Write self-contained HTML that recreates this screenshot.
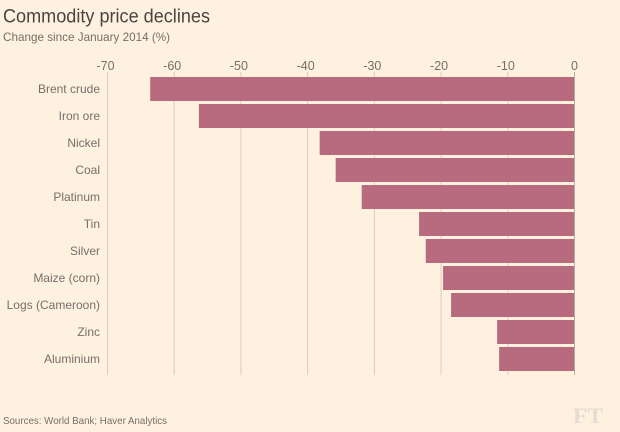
<!DOCTYPE html>
<html lang="en">
<head>
<meta charset="utf-8">
<title>Commodity price declines</title>
<style>
html,body{margin:0;padding:0;background:#fff1e0;}
body{width:620px;height:432px;overflow:hidden;position:relative;font-family:"Liberation Sans",sans-serif;}
svg{display:block;position:absolute;left:0;top:0;}
text{font-family:"Liberation Sans",sans-serif;}
</style>
</head>
<body>
<svg id="chart" width="620" height="432" viewBox="0 0 620 432">
<rect width="620" height="432" fill="#fff1e0"/>
<text x="3" y="22.5" font-size="19.5" fill="#4a4440" textLength="207" lengthAdjust="spacingAndGlyphs">Commodity price declines</text>
<text x="3" y="41" font-size="12" fill="#766f68" textLength="167" lengthAdjust="spacingAndGlyphs">Change since January 2014 (%)</text>
<g id="grid"></g>
<g id="bars"></g>
<g id="zero"></g>
<g id="xlabels"></g>
<g id="ylabels"></g>
<text x="3" y="424" font-size="10.5" fill="#766f68" textLength="164" lengthAdjust="spacingAndGlyphs">Sources: World Bank; Haver Analytics</text>
<text x="573" y="423" font-size="22" font-weight="bold" fill="#e6dbd0" style="font-family:'Liberation Serif',serif" textLength="30" lengthAdjust="spacingAndGlyphs">FT</text>
</svg>
<script>
const categories = ["Brent crude","Iron ore","Nickel","Coal","Platinum","Tin","Silver","Maize (corn)","Logs (Cameroon)","Zinc","Aluminium"];
const seriesValues = [-63.6,-56.3,-38.2,-35.8,-31.9,-23.3,-22.3,-19.7,-18.5,-11.6,-11.3];
const tickValues = [-70,-60,-50,-40,-30,-20,-10,0];

const svgNS = "http://www.w3.org/2000/svg";
const xScale = v => 574.5 + v * (467 / 70);
const yBand = i => 77 + i * 27;
const barHeight = 24;

function make(tag, attrs, parent, txt) {
  const el = document.createElementNS(svgNS, tag);
  for (const k in attrs) el.setAttribute(k, attrs[k]);
  if (txt !== undefined) el.textContent = txt;
  parent.appendChild(el);
  return el;
}

const grid = document.getElementById("grid");
const xlabels = document.getElementById("xlabels");
const ylabels = document.getElementById("ylabels");
const barsG = document.getElementById("bars");
const zeroG = document.getElementById("zero");

tickValues.forEach(t => {
  const x = xScale(t);
  const line = make("line", {x1:x, x2:x, y1:72, y2:375, stroke:"#d8cdbf", "stroke-width":1}, t === 0 ? zeroG : grid);
  
  
  if (t === 0) line.setAttribute("stroke", "#b5aca0");
  const labelX = t < 0 ? x - 2 : x;
  const label = make("text", {x:labelX, y:70, "text-anchor":"middle", "font-size":12.5, fill:"#766f68"}, xlabels, String(t));
  
  
});

categories.forEach((c, i) => {
  const v = seriesValues[i];
  const x0 = xScale(Math.min(v, 0));
  const x1 = xScale(Math.max(v, 0));
  const bar = make("rect", {x:x0, y:yBand(i), width:x1 - x0, height:barHeight, fill:"#b86b7f"}, barsG);
  
  
  const label = make("text", {x:100, y:yBand(i) + 16, "text-anchor":"end", "font-size":12, fill:"#766f68"}, ylabels, c);
  
  
});
</script>
</body>
</html>
